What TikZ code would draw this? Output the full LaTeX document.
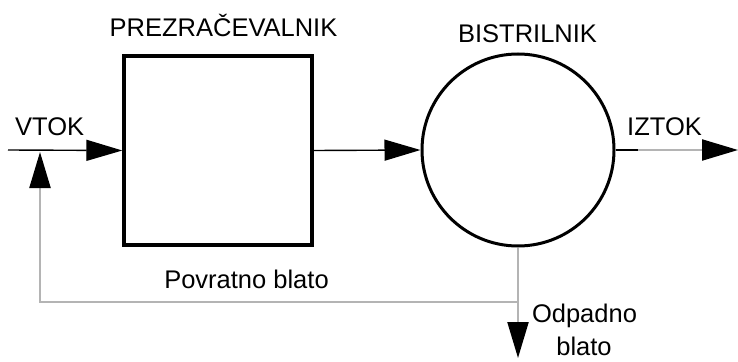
\documentclass[tikz,border=0pt]{standalone}
\usepackage{fontspec}
\setmainfont{Liberation Sans}
\usetikzlibrary{arrows.meta}
\definecolor{fbgray}{HTML}{B4B4B4}
\begin{document}
\begin{tikzpicture}[x=1pt,y=-1pt,
  lbl/.style={inner sep=0pt,font=\fontsize{25.5}{30}\selectfont},
  blk/.style={draw=black,line width=1.4pt},
  gry/.style={draw=fbgray,line width=2.2pt},
  tip/.style={-{Triangle[length=36pt,width=21pt,color=black,fill=black]}}]
\useasboundingbox (0,0) rectangle (738,361);
% units
\node[draw,line width=3.4pt,minimum width=188pt,minimum height=189pt,inner sep=0pt] (pre) at (218,150.5) {};
\node[draw,circle,line width=3pt,minimum size=192pt,inner sep=0pt] (bis) at (518,150) {};
% labels
\node[lbl,anchor=base] (tpre) at (223.5,37) {PREZRAČEVALNIK};
\node[lbl,anchor=base] (tbis) at (527.5,43) {BISTRILNIK};
\node[lbl,anchor=base west] (tvtok) at (15,135) {VTOK};
\node[lbl,anchor=base west] (tiztok) at (627,135) {IZTOK};
\node[lbl,anchor=base] (tpov) at (246.5,288) {Povratno blato};
\node[lbl,anchor=base] (todp) at (584.5,322) {Odpadno};
\node[lbl,anchor=base] (tbl) at (584,355) {blato};
% coordinates
\coordinate (vin) at (8,150);
\coordinate (fbr) at (518,302);
\coordinate (fbl) at (40,302);
\coordinate (fbtip) at (40,152);
\coordinate (dn) at (518,358);
\coordinate (out) at (738,150);
\coordinate (outb) at (638,150);
% connectors
\draw[blk,tip] (vin) -- (pre.west);
\draw[blk,tip] (pre.east) -- (bis.west);
\draw[gry,tip] (bis.east) -- (out);
\draw[blk] (bis.east) -- (outb);
\draw[gry,line cap=rect] (fbr) -- (fbl) -- ++(0,-100);
\draw[gry,tip] (fbl) -- (fbtip);
\draw[gry,tip] (bis.south) -- (dn);
\end{tikzpicture}
\end{document}
